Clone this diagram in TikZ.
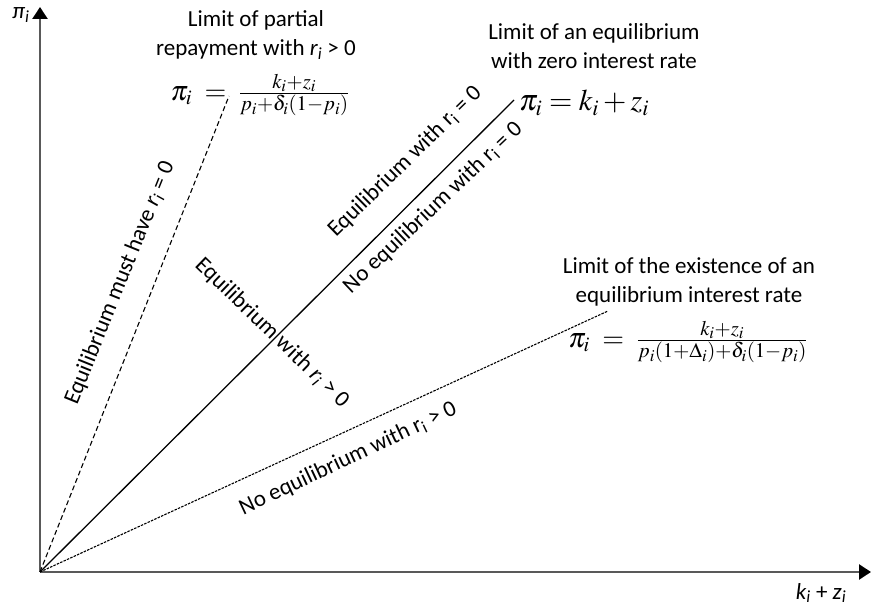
\documentclass[tikz,border=0pt]{standalone}
\usepackage{mathptmx}
\usepackage[no-math]{fontspec}
\setmainfont{Carlito}
\usetikzlibrary{arrows.meta}

\begin{document}
\begin{tikzpicture}[x=1pt, y=-1pt, >={Triangle[length=12pt, width=15pt, fill=black, color=black]},
    axis/.style={line width=2.6pt, draw=black!65},
    bound/.style={line width=1.1pt, black, dash pattern=on 5pt off 3pt},
    zeroline/.style={line width=1.3pt, black},
    rateline/.style={line width=1.1pt, black, dash pattern=on 2.5pt off 1.2pt},
    lbl/.style={font=\fontsize{23}{29}\selectfont, align=center, inner sep=0pt},
    eqn/.style={font=\fontsize{28}{30}\selectfont, inner sep=0pt}]
    % 1. Bounding box of the picture
    \useasboundingbox (0,0) rectangle (871,609);

    % 2. Axes
    \coordinate (O) at (40,572);
    \coordinate (ytop) at (40,7);
    \coordinate (xend) at (871,572);
    \draw[axis, ->] (O) -- (ytop);
    \draw[axis, ->] (O) -- (xend);
    \node[lbl] (ylab) at (21,15) {\textit{π}\textsubscript{\textit{i}}};
    \node[lbl] (xlab) at (821,593) {\textit{k}\textsubscript{\textit{i}} + \textit{z}\textsubscript{\textit{i}}};

    % 3. The three limits
    \coordinate (partialend) at (229,96);
    \coordinate (zeroend) at (514,100);
    \coordinate (rateend) at (608,311);
    \draw[bound] (O) -- (partialend);
    \draw[zeroline] (O) -- (zeroend);
    \draw[rateline] (O) -- (rateend);

    % 4. Titles and formulas of the limits
    \node[lbl] (partialtitle) at (256,35) {Limit of partial\\repayment with \textit{r}\textsubscript{\textit{i}} > 0};
    \node[eqn] (partialeq) at (260,95) {$\pi_i \;=\; \frac{k_i+z_i}{p_i+\delta_i(1-p_i)}$};
    \node[lbl] (zerotitle) at (594,46) {Limit of an equilibrium\\with zero interest rate};
    \node[eqn, anchor=west, font=\fontsize{30}{32}\selectfont] (zeroeq) at (519,103) {$\pi_i = k_i + z_i$};
    \node[lbl] (ratetitle) at (689,282) {Limit of the existence of an\\equilibrium interest rate};
    \node[eqn] (rateeq) at (688,342) {$\pi_i \;=\; \frac{k_i+z_i}{p_i(1+\Delta_i)+\delta_i(1-p_i)}$};

    % 5. Regions between the limits
    \node[lbl, rotate=68] (mustzero) at (120,283) {Equilibrium must have \textit{r}\textsubscript{\textit{i}} = 0};
    \node[lbl, rotate=44.4] (eqzero) at (405,162) {Equilibrium with r\textsubscript{i} = 0};
    \node[lbl, rotate=43.5] (noeqzero) at (433,208) {No equilibrium with r\textsubscript{i} = 0};
    \node[lbl, rotate=-44] (eqpos) at (272,333) {Equilibrium with \textit{r}\textsubscript{\textit{i}} > 0};
    \node[lbl, rotate=25.3] (noeqpos) at (348,459) {No equilibrium with r\textsubscript{i} > 0};
\end{tikzpicture}
\end{document}
